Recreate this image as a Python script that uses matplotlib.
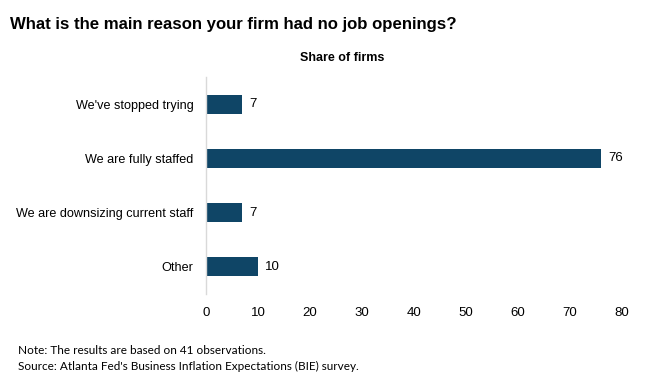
import matplotlib
matplotlib.use("Agg")
import matplotlib.pyplot as plt

categories = ["We've stopped trying", "We are fully staffed", "We are downsizing current staff", "Other"]
values = [7, 76, 7, 10]
xticks = [0, 10, 20, 30, 40, 50, 60, 70, 80]

plt.rcParams['font.family'] = ['Liberation Sans', 'DejaVu Sans']

fig = plt.figure(figsize=(6.51, 3.83), dpi=100)
ax = fig.add_axes([206/651, 1-294/383, 416/651, 217/383])

y = list(range(len(categories)))
bars = ax.barh(y, values, height=0.35, color='#0f4566')
ax.set_ylim(3.5, -0.5)
ax.set_xlim(0, 80)
ax.set_xticks(xticks)
ax.set_xticklabels([str(t) for t in xticks], fontsize=9.5)
ax.set_yticks(y)
ax.set_yticklabels(categories, fontsize=9.1)
ax.tick_params(axis='both', length=0)
ax.tick_params(axis='x', pad=9)
ax.tick_params(axis='y', pad=9)
for s in ['top', 'right', 'bottom']:
    ax.spines[s].set_visible(False)
ax.spines['left'].set_color('#d9d9d9')
ax.spines['left'].set_linewidth(1.0)

for yi, v in zip(y, values):
    ax.annotate(str(v), (v, yi), xytext=(5, 0), textcoords='offset points',
                va='center', ha='left', fontsize=9.5)

fig.text(10/651, 1-25/383, "What is the main reason your firm had no job openings?",
         fontsize=12.1, fontweight='bold', va='center', ha='left')
fig.text(342/651, 1-58/383, "Share of firms", fontsize=9, fontweight='bold',
         va='center', ha='center')
fig.text(18/651, 1-351/383, "Note: The results are based on 41 observations.",
         fontsize=8.5, va='center', ha='left', family=['Lato', 'DejaVu Sans'])
fig.text(18/651, 1-366/383, "Source: Atlanta Fed's Business Inflation Expectations (BIE) survey.",
         fontsize=8.5, va='center', ha='left', family=['Lato', 'DejaVu Sans'])

fig.savefig("out.png", dpi=100)
